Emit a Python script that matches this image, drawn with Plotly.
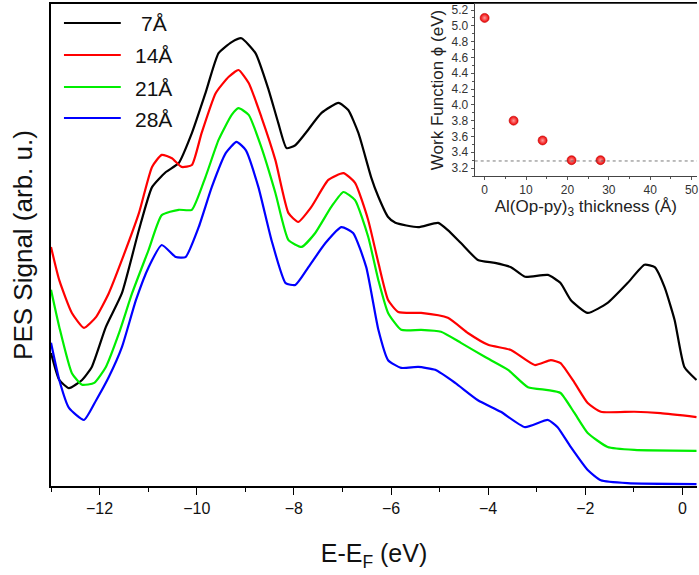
import plotly.graph_objects as go

# ---- main spectra (E - E_F in eV, PES signal in arb. units) ----
x_7 = [-13.0, -12.83, -12.63, -12.36, -12.16, -11.87, -11.54, -11.19, -10.92, -10.64, -10.37, -10.10,
       -9.82, -9.55, -9.28, -9.08, -8.79, -8.52, -8.32, -8.15, -7.97, -7.76, -7.43, -7.08, -6.88,
       -6.67, -6.41, -6.26, -6.06, -5.91, -5.44, -5.03, -4.83, -4.56, -4.21, -3.86, -3.53, -3.24,
       -2.77, -2.51, -2.30, -1.95, -1.54, -1.13, -0.78, -0.57, -0.37, -0.16, 0.04, 0.29]
y_7 = [27.6, 22.0, 20.3, 22.0, 24.7, 33.0, 40.0, 53.1, 62.0, 65.1, 67.0, 73.2,
       81.5, 89.8, 92.1, 92.9, 89.8, 82.2, 75.3, 70.1, 70.7, 73.2, 77.4, 79.5, 78.0,
       73.2, 64.1, 60.0, 55.8, 54.6, 53.7, 54.6, 53.1, 50.4, 46.9, 46.3, 45.4, 43.4,
       43.8, 42.1, 38.6, 35.9, 38.0, 42.1, 45.9, 45.4, 41.3, 34.4, 24.7, 22.0]

x_14 = [-13.0, -12.83, -12.57, -12.32, -12.07, -11.81, -11.54, -11.19, -10.92, -10.72, -10.51, -10.31,
        -10.10, -9.90, -9.61, -9.34, -9.14, -8.93, -8.67, -8.38, -8.11, -7.91, -7.64, -7.29, -6.98,
        -6.74, -6.47, -6.26, -6.06, -5.85, -5.38, -4.83, -4.41, -4.00, -3.53, -3.04, -2.71, -2.51,
        -2.22, -1.95, -1.68, -0.99, -0.45, 0.29]
y_14 = [49.6, 42.7, 35.9, 32.8, 35.1, 40.0, 46.9, 56.6, 66.2, 68.7, 68.0, 66.2,
        66.6, 73.2, 81.5, 84.9, 86.3, 83.6, 76.6, 67.6, 56.6, 54.8, 57.9, 63.5, 64.9,
        62.9, 55.2, 46.3, 38.6, 36.1, 35.9, 34.9, 31.7, 29.3, 28.2, 25.1, 26.1, 25.5,
        21.4, 17.2, 15.4, 15.4, 15.1, 14.3]

x_21 = [-13.0, -12.83, -12.57, -12.36, -12.11, -11.87, -11.60, -11.33, -10.99, -10.72, -10.37, -10.10,
        -9.82, -9.55, -9.28, -9.14, -8.93, -8.67, -8.38, -8.11, -7.84, -7.56, -7.23, -6.98, -6.74,
        -6.47, -6.26, -6.06, -5.79, -5.38, -4.97, -4.56, -4.07, -3.59, -3.18, -2.77, -2.51, -2.22,
        -1.95, -1.54, -0.99, 0.29]
y_21 = [40.7, 33.0, 23.4, 21.0, 21.4, 24.7, 31.7, 40.0, 49.0, 56.2, 57.3, 57.3,
        64.1, 71.8, 77.0, 78.4, 77.0, 70.3, 60.8, 51.0, 49.6, 52.5, 57.9, 61.0, 59.3,
        51.7, 42.7, 35.9, 32.4, 32.4, 32.0, 29.7, 26.8, 24.1, 20.5, 19.9, 19.3, 15.1,
        11.0, 8.1, 7.5, 7.3]

x_28 = [-13.0, -12.83, -12.63, -12.32, -12.07, -11.81, -11.54, -11.25, -10.99, -10.72, -10.43, -10.23,
        -9.96, -9.69, -9.40, -9.18, -8.99, -8.73, -8.46, -8.17, -7.97, -7.70, -7.35, -7.02, -6.78,
        -6.51, -6.26, -6.06, -5.79, -5.44, -5.09, -4.68, -4.21, -3.74, -3.24, -2.77, -2.57, -2.30,
        -1.95, -1.68, -1.13, 0.29]
y_28 = [29.7, 22.0, 16.2, 13.7, 17.8, 22.6, 28.8, 38.6, 45.4, 50.0, 47.5, 47.5,
        53.7, 62.0, 69.1, 71.4, 69.7, 62.0, 51.0, 42.1, 41.7, 45.4, 50.4, 53.7, 52.5,
        45.4, 32.4, 26.1, 24.5, 24.7, 24.1, 21.4, 17.8, 15.4, 12.2, 13.7, 12.2, 8.1,
        3.3, 1.2, 0.6, 0.4]

series_names = ["7Å", "14Å", "21Å", "28Å"]
series_colors = ["#000000", "#ff0000", "#00ee00", "#0000ff"]

# ---- inset: work function vs thickness ----
thickness = [0, 7, 14, 21, 28]
work_function = [5.10, 3.80, 3.55, 3.30, 3.30]
wf_level = 3.29
region_split = 15.6
x_ticks_main = [-12, -10, -8, -6, -4, -2, 0]
x_ticks_inset = [0, 10, 20, 30, 40, 50]

fig = go.Figure()
for xs, ys, name, col in zip([x_7, x_14, x_21, x_28], [y_7, y_14, y_21, y_28],
                             series_names, series_colors):
    fig.add_trace(go.Scatter(x=xs, y=ys, mode="lines", name=name, showlegend=False,
                             line=dict(color=col, width=2.2, shape="spline", smoothing=0.5),
                             xaxis="x", yaxis="y"))

fig.add_trace(go.Scatter(x=thickness, y=work_function, mode="markers", showlegend=False,
                         marker=dict(size=9, color="#ee0000",
                                     gradient=dict(type="radial", color="#ff9a9a"),
                                     line=dict(color="#c00000", width=0.6)),
                         xaxis="x2", yaxis="y2"))

W, H = 699, 575
L, R, T, B = 51, 0, 4, 89
pw, ph = W - L - R, H - T - B

def px(xp):
    return (xp - L) / pw

def py(yp):
    return (H - B - yp) / ph

shapes = []
# inset background regions
shapes.append(dict(type="rect", xref="x2", yref="y2 domain", x0=-10, x1=region_split, y0=0, y1=1,
                   fillcolor="#fddcc0", line=dict(width=0), layer="below"))
shapes.append(dict(type="rect", xref="x2", yref="y2 domain", x0=region_split, x1=100, y0=0, y1=1,
                   fillcolor="#c3c3c3", line=dict(width=0), layer="below"))
shapes.append(dict(type="line", xref="x2 domain", yref="y2", x0=0, x1=1, y0=wf_level, y1=wf_level,
                   line=dict(color="#555555", width=0.8, dash="dot")))

annotations = []
legend_rows = [23, 55, 87, 118]
for name, col, yr in zip(series_names, series_colors, legend_rows):
    shapes.append(dict(type="line", xref="paper", yref="paper", x0=px(64), x1=px(121),
                       y0=py(yr), y1=py(yr), line=dict(color=col, width=2.2)))
    annotations.append(dict(xref="paper", yref="paper", x=px(154), y=py(yr + 1), text=name,
                            showarrow=False, xanchor="center", yanchor="middle",
                            font=dict(size=21, color="#111111", family="Arial, Liberation Sans")))

fig.update_layout(
    width=W, height=H,
    margin=dict(l=L, r=R, t=T, b=B),
    paper_bgcolor="white", plot_bgcolor="white",
    font=dict(family="Arial, Liberation Sans, sans-serif", color="#111111"),
    shapes=shapes, annotations=annotations,
    xaxis=dict(range=[-13.0, 0.3], tickvals=x_ticks_main, ticks="outside", ticklen=7, tickwidth=1.3,
               tickcolor="black", showline=True, linecolor="black", linewidth=1.5, mirror=True,
               showgrid=False, zeroline=False, tickfont=dict(size=16), ticklabeloverflow="allow",
               minor=dict(dtick=1, ticks="outside", ticklen=4, tickcolor="black", showgrid=False),
               title=dict(text="E-E<sub>F</sub> (eV)", font=dict(size=25), standoff=29)),
    yaxis=dict(range=[0, 100], showticklabels=False, ticks="", showline=True, linecolor="black",
               linewidth=1.5, mirror=False, showgrid=False, zeroline=False,
               title=dict(text="PES Signal (arb. u.)", font=dict(size=26), standoff=9)),
    xaxis2=dict(domain=[px(476), 1.0], anchor="y2", range=[-2.4, 51.3],
                tickvals=x_ticks_inset, ticks="outside", ticklen=3, tickcolor="#555",
                showline=True, linecolor="#444", linewidth=1, mirror=True, showgrid=False,
                zeroline=False, tickfont=dict(size=12, color="#333"), ticklabeloverflow="allow",
                minor=dict(dtick=5, ticks="outside", ticklen=2, tickcolor="#555", showgrid=False),
                title=dict(text="Al(Op-py)<sub>3</sub> thickness (Å)", font=dict(size=17, color="#222"),
                           standoff=1)),
    yaxis2=dict(domain=[py(176), 1.0], anchor="x2", range=[3.1, 5.276], dtick=0.2,
                tickformat=".1f", ticks="outside", ticklen=3, tickcolor="#555",
                showline=True, linecolor="#444", linewidth=1, showgrid=False, zeroline=False,
                tickfont=dict(size=12, color="#333"),
                minor=dict(dtick=0.1, ticks="outside", ticklen=2, tickcolor="#555", showgrid=False),
                title=dict(text="Work Function ϕ (eV)", font=dict(size=17, color="#222"), standoff=3)),
)

fig.write_html("out.html", config={"displayModeBar": False},
               post_script="document.body.style.margin='0';")
